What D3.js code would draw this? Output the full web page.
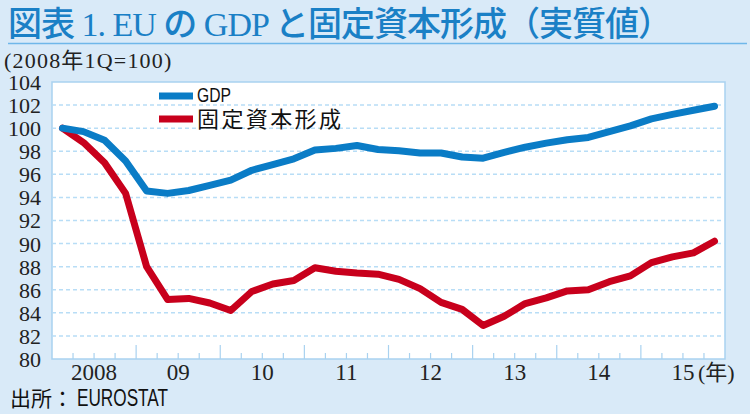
<!DOCTYPE html>
<html>
<head>
<meta charset="utf-8">
<script src="https://cdn.jsdelivr.net/npm/d3@7"></script>
<style>
  body { margin: 0; background: #d9eaf8; }
  svg { display: block; }
</style>
</head>
<body>
<svg id="chart" width="750" height="414"></svg>
<script>
// quarterly index, 2008 Q1 = 100
const years = ['2008', '09', '10', '11', '12', '13', '14', '15']
const gdp = [
  100, 99.7, 98.95, 97.15, 94.55, 94.35, 94.6, 95.05,
  95.5, 96.35, 96.85, 97.35, 98.1, 98.25, 98.5, 98.15,
  98.05, 97.85, 97.85, 97.5, 97.4, 97.9, 98.35, 98.7,
  99.0, 99.2, 99.7, 100.2, 100.8, 101.2, 101.55, 101.9
]
const investment = [
  100, 98.75, 97.0, 94.35, 88.0, 85.15, 85.25, 84.85,
  84.2, 85.85, 86.5, 86.8, 87.9, 87.6, 87.45, 87.35,
  86.9, 86.1, 84.9, 84.3, 82.9, 83.7, 84.8, 85.3,
  85.9, 86.0, 86.7, 87.2, 88.35, 88.85, 89.2, 90.2
]
const yTicks = d3.range(80, 105, 2)
const seriesNames = ['GDP', '固定資本形成']

const BLUE = '#0a7cc6'
const RED = '#c8001c'
const PALE = '#a9d2f0'
const SERIF = '"Liberation Serif", "Noto Sans CJK JP", serif'
const SANS = '"Noto Sans CJK JP", "Liberation Sans", sans-serif'

const plot = { left: 52, right: 725, top: 82, bottom: 359 }

const svg = d3.select('#chart')

svg.append('rect')
  .attr('width', 750)
  .attr('height', 414)
  .attr('fill', '#d9eaf8')

// title
svg.append('text')
  .attr('x', 8)
  .attr('y', 36)
  .attr('fill', '#1a80c6')
  .style('font-family', SERIF)
  .style('font-size', '34px')
  .style('font-weight', 500)
  .style('letter-spacing', '-1px')
  .text('図表 1. EU の GDP と固定資本形成（実質値）')

svg.append('line')
  .attr('x1', 8)
  .attr('x2', 747)
  .attr('y1', 43.5)
  .attr('y2', 43.5)
  .attr('stroke', '#6fb7e9')
  .attr('stroke-width', 1.5)

svg.append('text')
  .attr('x', 4)
  .attr('y', 68)
  .attr('fill', '#222')
  .style('font-family', SERIF)
  .style('font-size', '22px')
  .style('letter-spacing', '1.2px')
  .text('(2008年1Q=100)')

const nQuarters = years.length * 4
const x = d3.scaleLinear()
  .domain([0, nQuarters])
  .range([plot.left, plot.right])
const y = d3.scaleLinear()
  .domain([80, 104])
  .range([plot.bottom, plot.top])

svg.append('rect')
  .attr('x', plot.left)
  .attr('y', plot.top)
  .attr('width', plot.right - plot.left)
  .attr('height', plot.bottom - plot.top)
  .attr('fill', '#fff')
  .attr('stroke', PALE)
  .attr('stroke-width', 1.5)

// dashed grid
svg.append('g')
  .selectAll('line')
  .data(yTicks.filter((d) => d > 80 && d < 104))
  .join('line')
  .attr('x1', plot.left)
  .attr('x2', plot.right)
  .attr('y1', (d) => y(d))
  .attr('y2', (d) => y(d))
  .attr('stroke', '#b8ddf6')
  .attr('stroke-width', 1.5)
  .attr('stroke-dasharray', '4,3')

svg.append('g')
  .selectAll('text')
  .data(yTicks)
  .join('text')
  .attr('x', 41)
  .attr('y', (d) => y(d))
  .attr('dy', '0.36em')
  .attr('text-anchor', 'end')
  .attr('fill', '#222')
  .style('font-family', SERIF)
  .style('font-size', '22px')
  .text((d) => d)

// quarter ticks pointing up from the bottom axis
svg.append('g')
  .selectAll('line')
  .data(d3.range(1, nQuarters))
  .join('line')
  .attr('x1', (d) => x(d))
  .attr('x2', (d) => x(d))
  .attr('y1', plot.bottom)
  .attr('y2', (d) => plot.bottom - (d % 4 === 0 ? 14 : 6))
  .attr('stroke', PALE)
  .attr('stroke-width', 1.2)

svg.append('g')
  .selectAll('text')
  .data(years)
  .join('text')
  .attr('x', (d, i) => x(i * 4 + 2))
  .attr('y', 380)
  .attr('text-anchor', 'middle')
  .attr('fill', '#222')
  .style('font-family', SERIF)
  .style('font-size', '23px')
  .text((d) => d)

svg.append('text')
  .attr('x', x(nQuarters - 2) + 15)
  .attr('y', 380)
  .attr('fill', '#222')
  .style('font-family', SERIF)
  .style('font-size', '22px')
  .text('(年)')

const line = d3.line()
  .x((d, i) => x(i + 0.5))
  .y((d) => y(d))

const series = [
  { name: seriesNames[1], values: investment, color: RED },
  { name: seriesNames[0], values: gdp, color: BLUE }
]

svg.append('g')
  .selectAll('path')
  .data(series)
  .join('path')
  .attr('d', (d) => line(d.values))
  .attr('fill', 'none')
  .attr('stroke', (d) => d.color)
  .attr('stroke-width', 7)
  .attr('stroke-linejoin', 'round')
  .attr('stroke-linecap', 'round')

// legend
const legend = svg.append('g')
const legendItems = [
  { name: seriesNames[0], color: BLUE, y: 96 },
  { name: seriesNames[1], color: RED, y: 119 }
]
legend.selectAll('line')
  .data(legendItems)
  .join('line')
  .attr('x1', 159)
  .attr('x2', 193)
  .attr('y1', (d) => d.y)
  .attr('y2', (d) => d.y)
  .attr('stroke', (d) => d.color)
  .attr('stroke-width', 7)

legend.append('text')
  .attr('x', 197)
  .attr('y', 102)
  .attr('fill', '#111')
  .attr('textLength', 34)
  .attr('lengthAdjust', 'spacingAndGlyphs')
  .style('font-family', '"Liberation Sans", sans-serif')
  .style('font-size', '20px')
  .text(legendItems[0].name)

legend.append('text')
  .attr('x', 197)
  .attr('y', 127)
  .attr('fill', '#111')
  .style('font-family', SANS)
  .style('font-size', '22px')
  .style('letter-spacing', '2.4px')
  .text(legendItems[1].name)

// source
svg.append('text')
  .attr('x', 10)
  .attr('y', 406)
  .attr('fill', '#111')
  .style('font-family', SANS)
  .style('font-size', '21px')
  .text('出所：')

svg.append('text')
  .attr('x', 77)
  .attr('y', 406)
  .attr('fill', '#111')
  .attr('textLength', 91)
  .attr('lengthAdjust', 'spacingAndGlyphs')
  .style('font-family', '"Liberation Sans", sans-serif')
  .style('font-size', '24px')
  .text('EUROSTAT')
</script>
</body>
</html>
